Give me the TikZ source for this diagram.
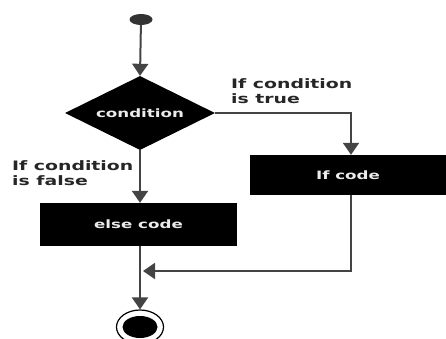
\documentclass[tikz,border=0pt]{standalone}
\usepackage{fontspec}
\setmainfont{DejaVu Sans}
\newfontfamily\widefont[FakeStretch=1.45]{DejaVu Sans}
\usetikzlibrary{shapes.geometric,arrows.meta}
\definecolor{lineg}{HTML}{444444}
\tikzset{
  flow/.style={draw=lineg,line width=2pt,-{Triangle[length=12pt,width=16pt]}},
  plain/.style={draw=lineg,line width=2pt},
  blk/.style={fill=black,draw=none,text=white!92!black,font=\widefont\bfseries\fontsize{11.5}{12}\selectfont},
  lbl/.style={font=\widefont\bfseries\fontsize{13}{15}\selectfont,align=left,anchor=base west,inner sep=0pt,text=black!85}
}
\begin{document}
\begin{tikzpicture}[x=1pt,y=-1pt]
\useasboundingbox (0,0) rectangle (446,338);
\node[ellipse,fill=black!80,minimum width=23pt,minimum height=11pt,inner sep=0pt] (start) at (141,19.5) {};
\node[diamond,blk,minimum width=150pt,minimum height=74pt,inner sep=0pt,aspect=2] (cond) at (140,113) {condition};
\node[blk,minimum width=196pt,minimum height=40pt,inner sep=0pt] (ifc) at (348,175) {If code};
\node[blk,minimum width=197pt,minimum height=43pt,inner sep=0pt] (elc) at (138.5,224.5) {else code};
\node[ellipse,draw=black,line width=1.2pt,fill=white,minimum width=47pt,minimum height=34pt,inner sep=0pt] (stop) at (140,327) {};
\node[ellipse,fill=black,minimum width=35pt,minimum height=22pt,inner sep=0pt] (stopin) at (140,327) {};
\coordinate (join) at (140,271);
\coordinate (corner) at (351,113);
\coordinate (back) at (351,271);
\draw[flow] (start) -- (cond.north);
\draw[flow] (cond.east) -- (corner) -- (ifc.north -| corner);
\draw[flow] (cond.south) -- (elc.north -| cond.south);
\draw[plain] (elc.south -| join) -- (join);
\draw[flow] (join) -- (stop.north -| join);
\draw[flow] (ifc.south -| back) -- (back) -- ([xshift=3pt]join);
\node[lbl] (tl) at (231,103) {If condition\\is true};
\node[lbl] (fl) at (12,185) {If condition\\is false};
\end{tikzpicture}
\end{document}
